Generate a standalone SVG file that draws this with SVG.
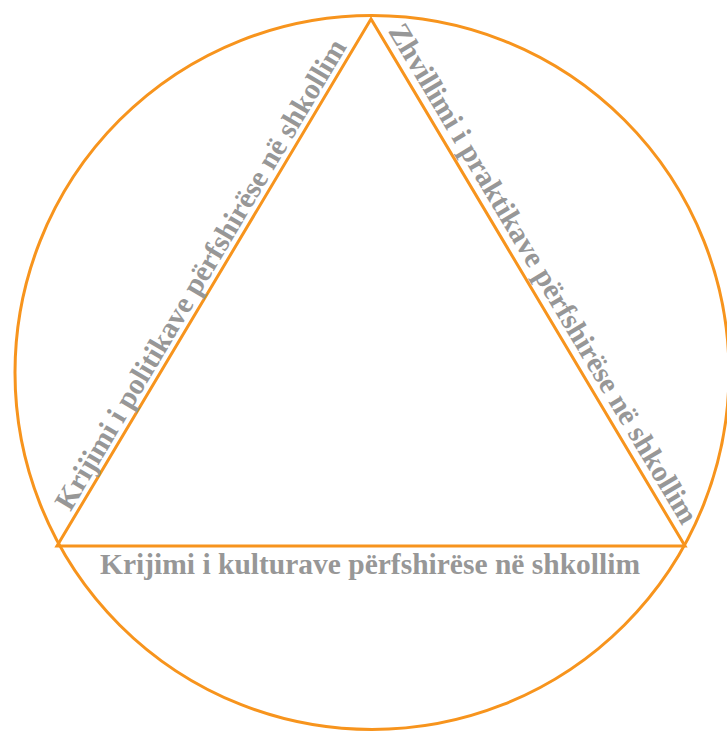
<svg xmlns="http://www.w3.org/2000/svg" width="727" height="731" viewBox="0 0 727 731">
<style>
.ln{fill:none;stroke:#F7941D;stroke-width:3;stroke-linejoin:miter}
.lbl{font-family:"Liberation Serif","Times New Roman",serif;font-weight:bold;font-size:29.5px;fill:#979797;text-anchor:middle}
</style>
<rect width="727" height="731" fill="#ffffff"/>
<g id="connectors">
<circle class="ln" cx="372" cy="372.5" r="357"/>
<polygon class="ln" points="371,19 57,546 685,546"/>
</g>
<g id="label-left">
<text class="lbl" transform="translate(208.8,279.4) rotate(-59.26)">Krijimi i politikave përfshirëse në shkollim</text>
</g>
<g id="label-right">
<text class="lbl" transform="translate(535,278.5) rotate(59.26)">Zhvillimi i praktikave përfshirëse në shkollim</text>
</g>
<g id="label-bottom">
<text class="lbl" x="370" y="574">Krijimi i kulturave përfshirëse në shkollim</text>
</g>
</svg>
